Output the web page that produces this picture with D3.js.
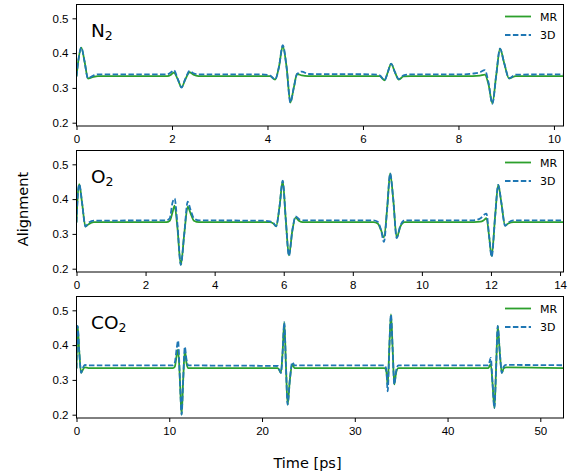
<!DOCTYPE html>
<html>
<head>
<meta charset="utf-8">
<script src="https://cdn.jsdelivr.net/npm/d3@7"></script>
<style>
  body { margin: 0; background: #fff; }
  svg { font-family: "DejaVu Sans", sans-serif; }
  .tick text { font-size: 11.5px; fill: #000; }
  .tick line { stroke: #000; }
</style>
</head>
<body>
<div id="chart"></div>
<script>
// N2
const n2Time = [0, 0.04, 0.1, 0.17, 0.24, 0.32, 0.45, 1.9, 1.98, 2.04, 2.12, 2.2, 2.28, 2.37, 2.45, 2.55,
  3.85, 4.05, 4.16, 4.24, 4.32, 4.4, 4.48, 4.55, 4.62, 4.72, 4.85, 6.2, 6.35, 6.45, 6.52, 6.59, 6.67, 6.75, 6.85, 7.0,
  8.1, 8.3, 8.45, 8.55, 8.63, 8.71, 8.79, 8.87, 8.96, 9.06, 9.2, 10.2];
const n2MR = [0.333, 0.38, 0.416, 0.375, 0.327, 0.33, 0.334, 0.334, 0.338, 0.344, 0.325, 0.302, 0.325, 0.345, 0.338, 0.334,
  0.334, 0.334, 0.324, 0.36, 0.42, 0.36, 0.258, 0.3, 0.34, 0.336, 0.334, 0.334, 0.334, 0.322, 0.345, 0.369, 0.345, 0.324, 0.333, 0.334,
  0.334, 0.334, 0.335, 0.338, 0.31, 0.256, 0.335, 0.413, 0.37, 0.327, 0.334, 0.334];
const n2ThreeD = [0.333, 0.38, 0.416, 0.375, 0.327, 0.333, 0.339, 0.339, 0.345, 0.351, 0.326, 0.301, 0.326, 0.349, 0.342, 0.339,
  0.339, 0.336, 0.324, 0.36, 0.423, 0.36, 0.258, 0.3, 0.34, 0.347, 0.34, 0.339, 0.336, 0.322, 0.345, 0.37, 0.345, 0.325, 0.336, 0.339,
  0.339, 0.341, 0.345, 0.351, 0.315, 0.254, 0.335, 0.413, 0.37, 0.328, 0.338, 0.339];

// O2
const o2Time = [0, 0.03, 0.08, 0.16, 0.26, 0.35, 0.5, 2.6, 2.7, 2.78, 2.84, 2.92, 3.02, 3.12, 3.22, 3.3, 3.4, 3.55,
  5.4, 5.6, 5.7, 5.78, 5.88, 5.97, 6.06, 6.15, 6.25, 6.34, 6.45, 6.55, 8.6, 8.72, 8.82, 8.9, 9.0, 9.08, 9.17, 9.27, 9.38, 9.5,
  11.5, 11.7, 11.8, 11.87, 11.95, 12.02, 12.12, 12.21, 12.3, 12.41, 12.5, 12.65, 14.1];
const o2MR = [0.333, 0.4, 0.443, 0.39, 0.321, 0.328, 0.334, 0.334, 0.338, 0.362, 0.381, 0.32, 0.211, 0.3, 0.378, 0.36, 0.338, 0.334,
  0.334, 0.334, 0.33, 0.322, 0.38, 0.452, 0.34, 0.238, 0.31, 0.347, 0.337, 0.334, 0.334, 0.33, 0.31, 0.29, 0.38, 0.474, 0.4, 0.29, 0.322, 0.334,
  0.334, 0.335, 0.34, 0.345, 0.29, 0.236, 0.35, 0.441, 0.39, 0.324, 0.33, 0.334, 0.334];
const o2ThreeD = [0.333, 0.4, 0.443, 0.39, 0.321, 0.332, 0.338, 0.339, 0.345, 0.39, 0.402, 0.33, 0.211, 0.3, 0.393, 0.37, 0.345, 0.339,
  0.338, 0.336, 0.331, 0.322, 0.38, 0.453, 0.34, 0.237, 0.31, 0.35, 0.342, 0.339, 0.339, 0.335, 0.31, 0.277, 0.38, 0.474, 0.4, 0.288, 0.325, 0.339,
  0.339, 0.345, 0.355, 0.358, 0.29, 0.234, 0.35, 0.441, 0.39, 0.323, 0.332, 0.339, 0.339];

// CO2
const co2Time = [0, 0.12, 0.3, 0.5, 0.7, 0.9, 1.3, 10.4, 10.6, 10.8, 10.95, 11.15, 11.33, 11.5, 11.68, 11.85, 12.05,
  21.7, 22.04, 22.22, 22.4, 22.58, 22.76, 23.0, 23.26, 23.5, 33.2, 33.4, 33.55, 33.72, 33.9, 34.08, 34.26, 34.45, 34.7,
  44.4, 44.66, 44.85, 45.05, 45.23, 45.41, 45.63, 45.85, 46.05, 46.3, 52.5];
const co2MR = [0.333, 0.455, 0.38, 0.32, 0.33, 0.336, 0.334, 0.334, 0.338, 0.37, 0.387, 0.3, 0.2, 0.3, 0.385, 0.35, 0.334,
  0.334, 0.32, 0.38, 0.465, 0.34, 0.229, 0.3, 0.345, 0.334, 0.334, 0.325, 0.285, 0.39, 0.488, 0.39, 0.287, 0.32, 0.334,
  0.334, 0.345, 0.29, 0.219, 0.33, 0.455, 0.38, 0.32, 0.333, 0.336, 0.334];
const co2ThreeD = [0.333, 0.455, 0.38, 0.32, 0.335, 0.343, 0.342, 0.342, 0.35, 0.39, 0.413, 0.3, 0.2, 0.3, 0.395, 0.36, 0.342,
  0.34, 0.32, 0.38, 0.466, 0.34, 0.229, 0.3, 0.351, 0.342, 0.342, 0.33, 0.267, 0.39, 0.488, 0.39, 0.287, 0.325, 0.342,
  0.342, 0.363, 0.29, 0.219, 0.33, 0.455, 0.38, 0.32, 0.338, 0.343, 0.342];

const molecules = ['N', 'O', 'CO'];
const xMax = [10.2, 14.1, 52.5];
const xTicks = [[0, 2, 4, 6, 8, 10], [0, 2, 4, 6, 8, 10, 12, 14], [0, 10, 20, 30, 40, 50]];
const yTicks = [0.2, 0.3, 0.4, 0.5];
const seriesNames = ['MR', '3D'];

const panels = [
  { time: n2Time, mr: n2MR, d3d: n2ThreeD },
  { time: o2Time, mr: o2MR, d3d: o2ThreeD },
  { time: co2Time, mr: co2MR, d3d: co2ThreeD }
];

const width = 570;
const height = 476;
const left = 76.5;
const right = 563.5;
const tops = [4.5, 150.5, 296.5];
const panelH = 121.5;
const green = '#2ca02c';
const blue = '#1f77b4';
const lw = 1.8;

const svg = d3.select('#chart')
  .append('svg')
    .attr('width', width)
    .attr('height', height);

panels.forEach((p, i) => {
  const top = tops[i];
  const x = d3.scaleLinear()
    .domain([0, xMax[i]])
    .range([left, right]);
  const y = d3.scaleLinear()
    .domain([0.1905, 0.5397])
    .range([top + panelH, top]);

  const g = svg.append('g');

  g.append('clipPath')
    .attr('id', `clip${i}`)
    .append('rect')
      .attr('x', left)
      .attr('y', top)
      .attr('width', right - left)
      .attr('height', panelH);

  const line = (vals) => d3.line()
    .x((d, k) => x(p.time[k]))
    .y(d => y(d))
    .curve(d3.curveMonotoneX)(vals);

  g.append('path')
    .attr('d', line(p.mr))
    .attr('clip-path', `url(#clip${i})`)
    .attr('fill', 'none')
    .attr('stroke', green)
    .attr('stroke-width', lw);

  g.append('path')
    .attr('d', line(p.d3d))
    .attr('clip-path', `url(#clip${i})`)
    .attr('fill', 'none')
    .attr('stroke', blue)
    .attr('stroke-width', lw)
    .attr('stroke-dasharray', '5.5,2.4');

  g.append('g')
    .attr('transform', `translate(0,${top + panelH})`)
    .call(d3.axisBottom(x).tickValues(xTicks[i]).tickSize(4).tickPadding(5).tickSizeOuter(0))
    .call(a => a.select('.domain').remove());

  g.append('g')
    .attr('transform', `translate(${left},0)`)
    .call(d3.axisLeft(y).tickValues(yTicks).tickFormat(d3.format('.1f')).tickSize(4).tickPadding(4).tickSizeOuter(0))
    .call(a => a.select('.domain').remove());

  // frame
  g.append('rect')
    .attr('x', left)
    .attr('y', top)
    .attr('width', right - left)
    .attr('height', panelH)
    .attr('fill', 'none')
    .attr('stroke', '#000')
    .attr('stroke-width', 1);

  // molecule label
  const lab = g.append('text')
    .attr('x', left + 14.5)
    .attr('y', top + 32)
    .attr('font-size', 18.5)
    .text(molecules[i]);
  lab.append('tspan')
    .attr('font-size', 12.5)
    .attr('dy', 3.5)
    .text('2');

  // legend
  seriesNames.forEach((s, k) => {
    const ly = top + 12 + k * 18.5;
    g.append('line')
      .attr('x1', 505)
      .attr('x2', 531)
      .attr('y1', ly)
      .attr('y2', ly)
      .attr('stroke', k === 0 ? green : blue)
      .attr('stroke-width', lw)
      .attr('stroke-dasharray', k === 0 ? null : '5.5,2.4');
    g.append('text')
      .attr('x', 540)
      .attr('y', ly + 4)
      .attr('font-size', 11)
      .text(s);
  });
});

svg.append('text')
  .attr('transform', 'translate(28,209) rotate(-90)')
  .attr('text-anchor', 'middle')
  .attr('font-size', 14.5)
  .text('Alignment');

svg.append('text')
  .attr('x', 307.5)
  .attr('y', 468)
  .attr('text-anchor', 'middle')
  .attr('font-size', 14.5)
  .text('Time [ps]');
</script>
</body>
</html>
